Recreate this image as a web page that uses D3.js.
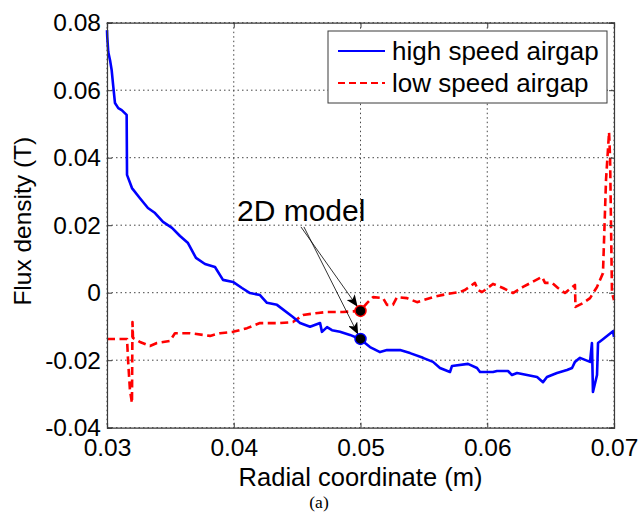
<!DOCTYPE html>
<html>
<head>
<meta charset="utf-8">
<script src="https://cdn.jsdelivr.net/npm/d3@7"></script>
<style>
  html, body { margin: 0; padding: 0; background: #fff; }
  svg { display: block; }
  text { font-family: "Liberation Sans", Arial, Helvetica, sans-serif; fill: #000; }
</style>
</head>
<body>
<svg id="chart" width="640" height="525"></svg>
<script>
// ---- data ----
const xTicks = [0.03, 0.04, 0.05, 0.06, 0.07];
const xTickLabels = ["0.03", "0.04", "0.05", "0.06", "0.07"];
const yTicks = [-0.04, -0.02, 0, 0.02, 0.04, 0.06, 0.08];
const yTickLabels = ["-0.04", "-0.02", "0", "0.02", "0.04", "0.06", "0.08"];

const seriesNames = ["high speed airgap", "low speed airgap"];

// high speed airgap (blue, solid)
const highX = [0.03, 0.03002, 0.0301, 0.03024, 0.03037, 0.0305, 0.03063, 0.03089, 0.03116, 0.03155, 0.03158,
  0.03197, 0.0326, 0.03323, 0.03379, 0.03442, 0.03513, 0.03576, 0.03639, 0.03702, 0.03773, 0.03852, 0.03915,
  0.03994, 0.04065, 0.04128, 0.04207, 0.04262, 0.04341, 0.04467, 0.04523, 0.04602, 0.04681, 0.04696, 0.04736,
  0.04775, 0.04838, 0.04917, 0.04996, 0.05075, 0.05154, 0.05209, 0.05312, 0.05391, 0.05493, 0.05572, 0.05627,
  0.05706, 0.05722, 0.05848, 0.05919, 0.05943, 0.06045, 0.06077, 0.06164, 0.06195, 0.06235, 0.06314, 0.06393,
  0.0644, 0.06471, 0.0655, 0.06629, 0.06669, 0.06692, 0.06732, 0.06811, 0.06826, 0.06834, 0.06866, 0.06874,
  0.06905, 0.06992, 0.07];
const highY = [0.0778, 0.0758, 0.0713, 0.0689, 0.0659, 0.0609, 0.0562, 0.0547, 0.0541, 0.0527, 0.0349,
  0.031, 0.028, 0.0251, 0.0236, 0.021, 0.0192, 0.0168, 0.0147, 0.0103, 0.0085, 0.0076, 0.0038,
  0.0032, 0.0014, -0.0001, -0.0007, -0.003, -0.0036, -0.0072, -0.009, -0.0101, -0.009, -0.0116, -0.0102,
  -0.0111, -0.0116, -0.0125, -0.0137, -0.0161, -0.0176, -0.017, -0.017, -0.0179, -0.0193, -0.0205, -0.0223,
  -0.0235, -0.0217, -0.0211, -0.0223, -0.0235, -0.0235, -0.0232, -0.0232, -0.0244, -0.0238, -0.0244, -0.025,
  -0.0265, -0.025, -0.0238, -0.0229, -0.0223, -0.0205, -0.0193, -0.0205, -0.0149, -0.0294, -0.0244, -0.0149,
  -0.014, -0.0114, -0.0131];

// low speed airgap (red, dashed)
const lowX = [0.03, 0.03158, 0.03166, 0.03181, 0.03197, 0.03201, 0.03205, 0.0326, 0.03339, 0.03394, 0.03497,
  0.03536, 0.03655, 0.03757, 0.03813, 0.03892, 0.03994, 0.04105, 0.04207, 0.04365, 0.04467, 0.04546, 0.04665,
  0.04736, 0.04862, 0.04996, 0.05051, 0.05099, 0.05178, 0.05209, 0.05256, 0.05288, 0.05367, 0.05446, 0.05572,
  0.05682, 0.05785, 0.05824, 0.05903, 0.05927, 0.05959, 0.05982, 0.06045, 0.06124, 0.06203, 0.06282, 0.06432,
  0.06456, 0.06511, 0.06558, 0.06613, 0.06692, 0.06696, 0.06755, 0.06811, 0.06866, 0.06913, 0.06937, 0.06961,
  0.06969, 0.06984, 0.07];
const lowY = [-0.0137, -0.0137, -0.0199, -0.0288, -0.0327, -0.0087, -0.0134, -0.0146, -0.0158, -0.0149, -0.0143,
  -0.012, -0.012, -0.0125, -0.0128, -0.012, -0.0116, -0.0105, -0.009, -0.009, -0.0087, -0.0066, -0.006,
  -0.0057, -0.0057, -0.0054, -0.0031, -0.0013, -0.0016, -0.0036, -0.0036, -0.0013, -0.0016, -0.0028, -0.0013,
  -0.0004, 0.0002, 0.0008, 0.0029, 0.0008, 0.0002, 0.0008, 0.0026, 0.0014, -0.0001, 0.0017, 0.0047,
  0.0029, 0.0029, 0.0014, -0.0001, 0.0023, -0.0042, -0.0031, -0.0016, 0.0017, 0.0058, 0.0334, 0.0476,
  0.0402, 0.0, -0.0022];

// 2D model points
const modelX = [0.05, 0.05];
const modelY = [-0.0054, -0.0137];
const modelLabel = "2D model";
const modelLabelPos = [0.0453, 0.0195];

// ---- layout ----
const svg = d3.select("#chart");
const L = 107, R = 614, T = 22.7, B = 427.7;
const x = d3.scaleLinear().domain([0.03, 0.07]).range([L, R]);
const y = d3.scaleLinear().domain([-0.04, 0.08]).range([B, T]);

const axisColor = "#3a3a3a";

// grid
const grid = svg.append("g");
grid.selectAll("line.vx").data(xTicks).enter().append("line")
  .attr("x1", d => x(d)).attr("x2", d => x(d)).attr("y1", T).attr("y2", B)
  .attr("stroke", "#444").attr("stroke-width", 1).attr("stroke-dasharray", "1.5,3");
grid.selectAll("line.hy").data(yTicks).enter().append("line")
  .attr("x1", L).attr("x2", R).attr("y1", d => y(d)).attr("y2", d => y(d))
  .attr("stroke", "#444").attr("stroke-width", 1).attr("stroke-dasharray", "1.5,3");

// series lines
const line = d3.line().x(d => x(d[0])).y(d => y(d[1]));
const highData = highX.map((v, i) => [v, highY[i]]);
const lowData = lowX.map((v, i) => [v, lowY[i]]);

svg.append("path").datum(lowData).attr("d", line)
  .attr("fill", "none").attr("stroke", "#ff0000").attr("stroke-width", 2.6)
  .attr("stroke-dasharray", "8,4.5").attr("stroke-linejoin", "round");
svg.append("path").datum(highData).attr("d", line)
  .attr("fill", "none").attr("stroke", "#0000ff").attr("stroke-width", 2.6)
  .attr("stroke-linejoin", "round");

// axes
const fmtX = d => xTickLabels[xTicks.indexOf(d)];
const fmtY = d => yTickLabels[yTicks.indexOf(d)];

const gx = svg.append("g").attr("transform", `translate(0,${B})`)
  .call(d3.axisBottom(x).tickValues(xTicks).tickFormat(fmtX).tickSize(-5).tickPadding(11));
const gy = svg.append("g").attr("transform", `translate(${L},0)`)
  .call(d3.axisLeft(y).tickValues(yTicks).tickFormat(fmtY).tickSize(-5).tickPadding(6));
const gxt = svg.append("g").attr("transform", `translate(0,${T})`)
  .call(d3.axisTop(x).tickValues(xTicks).tickFormat("").tickSize(-5));
const gyr = svg.append("g").attr("transform", `translate(${R},0)`)
  .call(d3.axisRight(y).tickValues(yTicks).tickFormat("").tickSize(-5));

[gx, gy, gxt, gyr].forEach(g => {
  g.select(".domain").attr("stroke", axisColor).attr("stroke-width", 1.2);
  g.selectAll(".tick line").attr("stroke", axisColor);
  g.selectAll(".tick text").attr("fill", "#000")
    .style("font-family", '"Liberation Sans", Arial, sans-serif').style("font-size", "24.5px");
});

// axis labels
svg.append("text").attr("x", (L + R) / 2).attr("y", 486).attr("text-anchor", "middle")
  .style("font-size", "25.5px").text("Radial coordinate (m)");
svg.append("text").attr("transform", `translate(31,${(T + B) / 2 - 4}) rotate(-90)`)
  .attr("text-anchor", "middle").style("font-size", "24.5px").text("Flux density (T)");

// caption
svg.append("text").attr("x", 319).attr("y", 508).attr("text-anchor", "middle")
  .style("font-family", '"Liberation Serif", "Times New Roman", serif').style("font-size", "17.5px")
  .text("(a)");

// annotation arrows
const defs = svg.append("defs");
defs.append("marker").attr("id", "ah").attr("viewBox", "0 0 12 10")
  .attr("refX", 12).attr("refY", 5).attr("markerWidth", 12).attr("markerHeight", 10)
  .attr("markerUnits", "userSpaceOnUse").attr("orient", "auto")
  .append("path").attr("d", "M0,0 L12,5 L0,10 L3,5 Z").attr("fill", "#000");

const sx = x(modelLabelPos[0]), sy = y(modelLabelPos[1]);
modelX.forEach((mx, i) => {
  const tx = x(mx), ty = y(modelY[i]);
  const dx = tx - sx, dy = ty - sy, len = Math.hypot(dx, dy);
  const ex = tx - dx / len * 5, ey = ty - dy / len * 5;
  svg.append("line").attr("x1", sx + i * 3).attr("y1", sy).attr("x2", ex).attr("y2", ey)
    .attr("stroke", "#000").attr("stroke-width", 0.8).attr("marker-end", "url(#ah)");
});

// model dots
const dotStroke = ["#ff0000", "#0000ff"];
svg.selectAll("circle.model").data(modelX.map((v, i) => [v, modelY[i]])).enter().append("circle")
  .attr("cx", d => x(d[0])).attr("cy", d => y(d[1])).attr("r", 5.5)
  .attr("fill", "#000").attr("stroke", (d, i) => dotStroke[i]).attr("stroke-width", 1.5);

svg.append("text").attr("x", 237).attr("y", 221).style("font-size", "30px").text(modelLabel);

// legend
const lg = svg.append("g");
lg.append("rect").attr("x", 328).attr("y", 31).attr("width", 279).attr("height", 72)
  .attr("fill", "#fff").attr("stroke", axisColor).attr("stroke-width", 1);
const legColors = ["#0000ff", "#ff0000"];
const legDash = [null, "7,4"];
const legY = [51, 83];
seriesNames.forEach((name, i) => {
  lg.append("line").attr("x1", 338).attr("x2", 385).attr("y1", legY[i]).attr("y2", legY[i])
    .attr("stroke", legColors[i]).attr("stroke-width", 2).attr("stroke-dasharray", legDash[i]);
  lg.append("text").attr("x", 392).attr("y", legY[i] + 8.5).style("font-size", "26px").text(name);
});
</script>
</body>
</html>
